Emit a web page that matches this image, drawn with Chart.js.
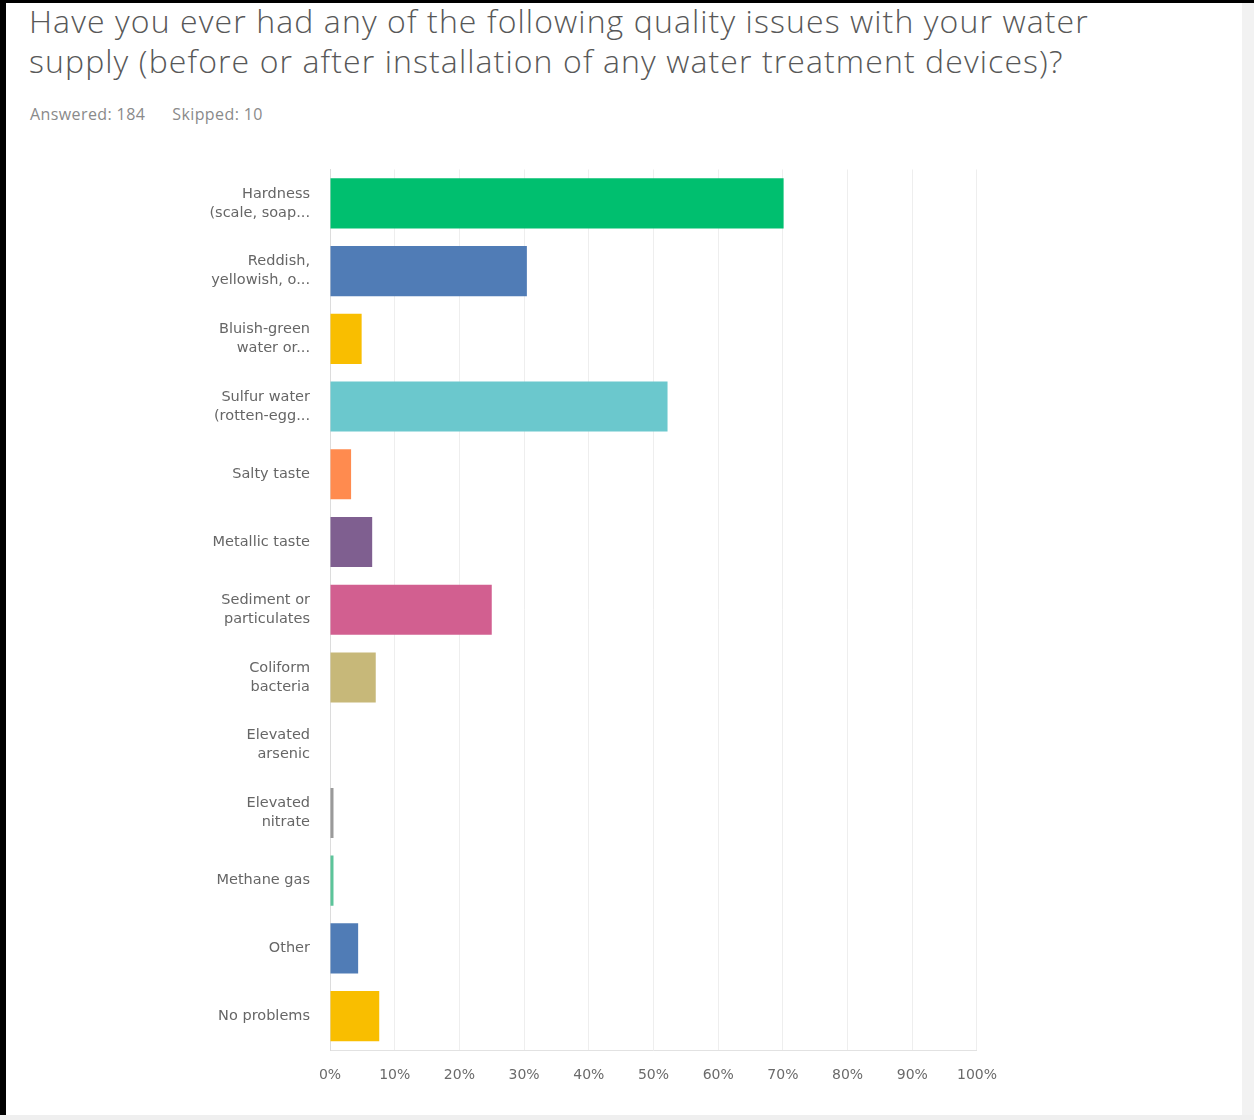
<!DOCTYPE html>
<html>
<head>
<meta charset="utf-8">
<script src="https://cdn.jsdelivr.net/npm/chart.js@4.4.1/dist/chart.umd.min.js"></script>
<style>
    html, body {
        margin: 0;
        padding: 0;
        background: #ffffff;
    }
    .frame {
        position: relative;
        width: 1254px;
        height: 1120px;
        overflow: hidden;
        background: #ffffff;
        font-family: "Open Sans", sans-serif;
    }
    .edge-top { position: absolute; left: 0; top: 0; width: 1254px; height: 3px; background: #000; }
    .edge-left { position: absolute; left: 0; top: 0; width: 6px; height: 1115px; background: #000; }
    .edge-right { position: absolute; left: 1242px; top: 3px; width: 12px; height: 1117px; background: #f2f2f2; }
    .edge-bottom { position: absolute; left: 0; top: 1115px; width: 1254px; height: 5px; background: #efefef; }
    h1 {
        position: absolute;
        left: 29px;
        top: 1px;
        margin: 0;
        font-weight: 300;
        font-size: 32px;
        line-height: 40px;
        color: #585858;
        letter-spacing: 1.1px;
        white-space: nowrap;
    }
    .meta {
        position: absolute;
        left: 30px;
        top: 103px;
        font-size: 16px;
        letter-spacing: 0.4px;
        color: #8a8a8a;
    }
    .meta span + span { margin-left: 27px; }
    .chart-box {
        position: absolute;
        left: 0;
        top: 140px;
        width: 1014px;
        height: 970px;
    }
</style>
</head>
<body>
<div class="frame">
    <div class="edge-top"></div>
    <div class="edge-left"></div>
    <div class="edge-right"></div>
    <div class="edge-bottom"></div>
    <h1>Have you ever had any of the following quality issues with your water<br>supply (before or after installation of any water treatment devices)?</h1>
    <div class="meta"><span>Answered: 184</span><span>Skipped: 10</span></div>
    <div class="chart-box"><canvas id="issuesChart"></canvas></div>
</div>
<script>
const issueLabels = [
    ["Hardness", "(scale, soap..."],
    ["Reddish,", "yellowish, o..."],
    ["Bluish-green", "water or..."],
    ["Sulfur water", "(rotten-egg..."],
    "Salty taste",
    "Metallic taste",
    ["Sediment or", "particulates"],
    ["Coliform", "bacteria"],
    ["Elevated", "arsenic"],
    ["Elevated", "nitrate"],
    "Methane gas",
    "Other",
    "No problems"
];

// percent of respondents (184 answered)
const issuePercents = [70.11, 30.43, 4.89, 52.17, 3.26, 6.52, 25.00, 7.07, 0, 0.54, 0.54, 4.35, 7.61];

const barColors = [
    "#00bf6f", "#507cb6", "#f9be00", "#6bc8cd", "#ff8b4f", "#7f5f90", "#d25f90",
    "#c7b879", "#dddddd", "#9a9a9a", "#5cc49a", "#507cb6", "#f9be00"
];

const percentTicks = [0, 10, 20, 30, 40, 50, 60, 70, 80, 90, 100];

new Chart(document.getElementById("issuesChart"), {
    type: "bar",
    data: {
        labels: issueLabels,
        datasets: [
            {
                data: issuePercents,
                backgroundColor: barColors,
                borderWidth: 0,
                barPercentage: 0.74,
                categoryPercentage: 1
            }
        ]
    },
    options: {
        indexAxis: "y",
        responsive: true,
        maintainAspectRatio: false,
        animation: false,
        layout: {
            padding: { top: 10, right: 12, left: 0, bottom: 0 }
        },
        plugins: {
            legend: { display: false },
            tooltip: { enabled: false }
        },
        scales: {
            x: {
                min: 0,
                max: 100,
                afterBuildTicks: (scale) => {
                    scale.ticks = percentTicks.map((v) => ({ value: v }));
                },
                afterFit: (scale) => {
                    scale.height = 60;
                },
                grid: {
                    color: "#eeeeee",
                    drawTicks: false
                },
                border: { color: "#e2e2e2" },
                ticks: {
                    padding: 17,
                    color: "#6a6a6a",
                    font: { family: "'DejaVu Sans', sans-serif", size: 14 },
                    maxRotation: 0,
                    callback: (value) => value + "%"
                }
            },
            y: {
                afterFit: (scale) => {
                    scale.width = 330;
                },
                grid: { display: false, drawTicks: false },
                border: { color: "#dcdcdc" },
                ticks: {
                    padding: 20,
                    color: "#666666",
                    font: { family: "'DejaVu Sans', sans-serif", size: 14.5, lineHeight: 1.31 }
                }
            }
        }
    }
});
</script>
</body>
</html>
